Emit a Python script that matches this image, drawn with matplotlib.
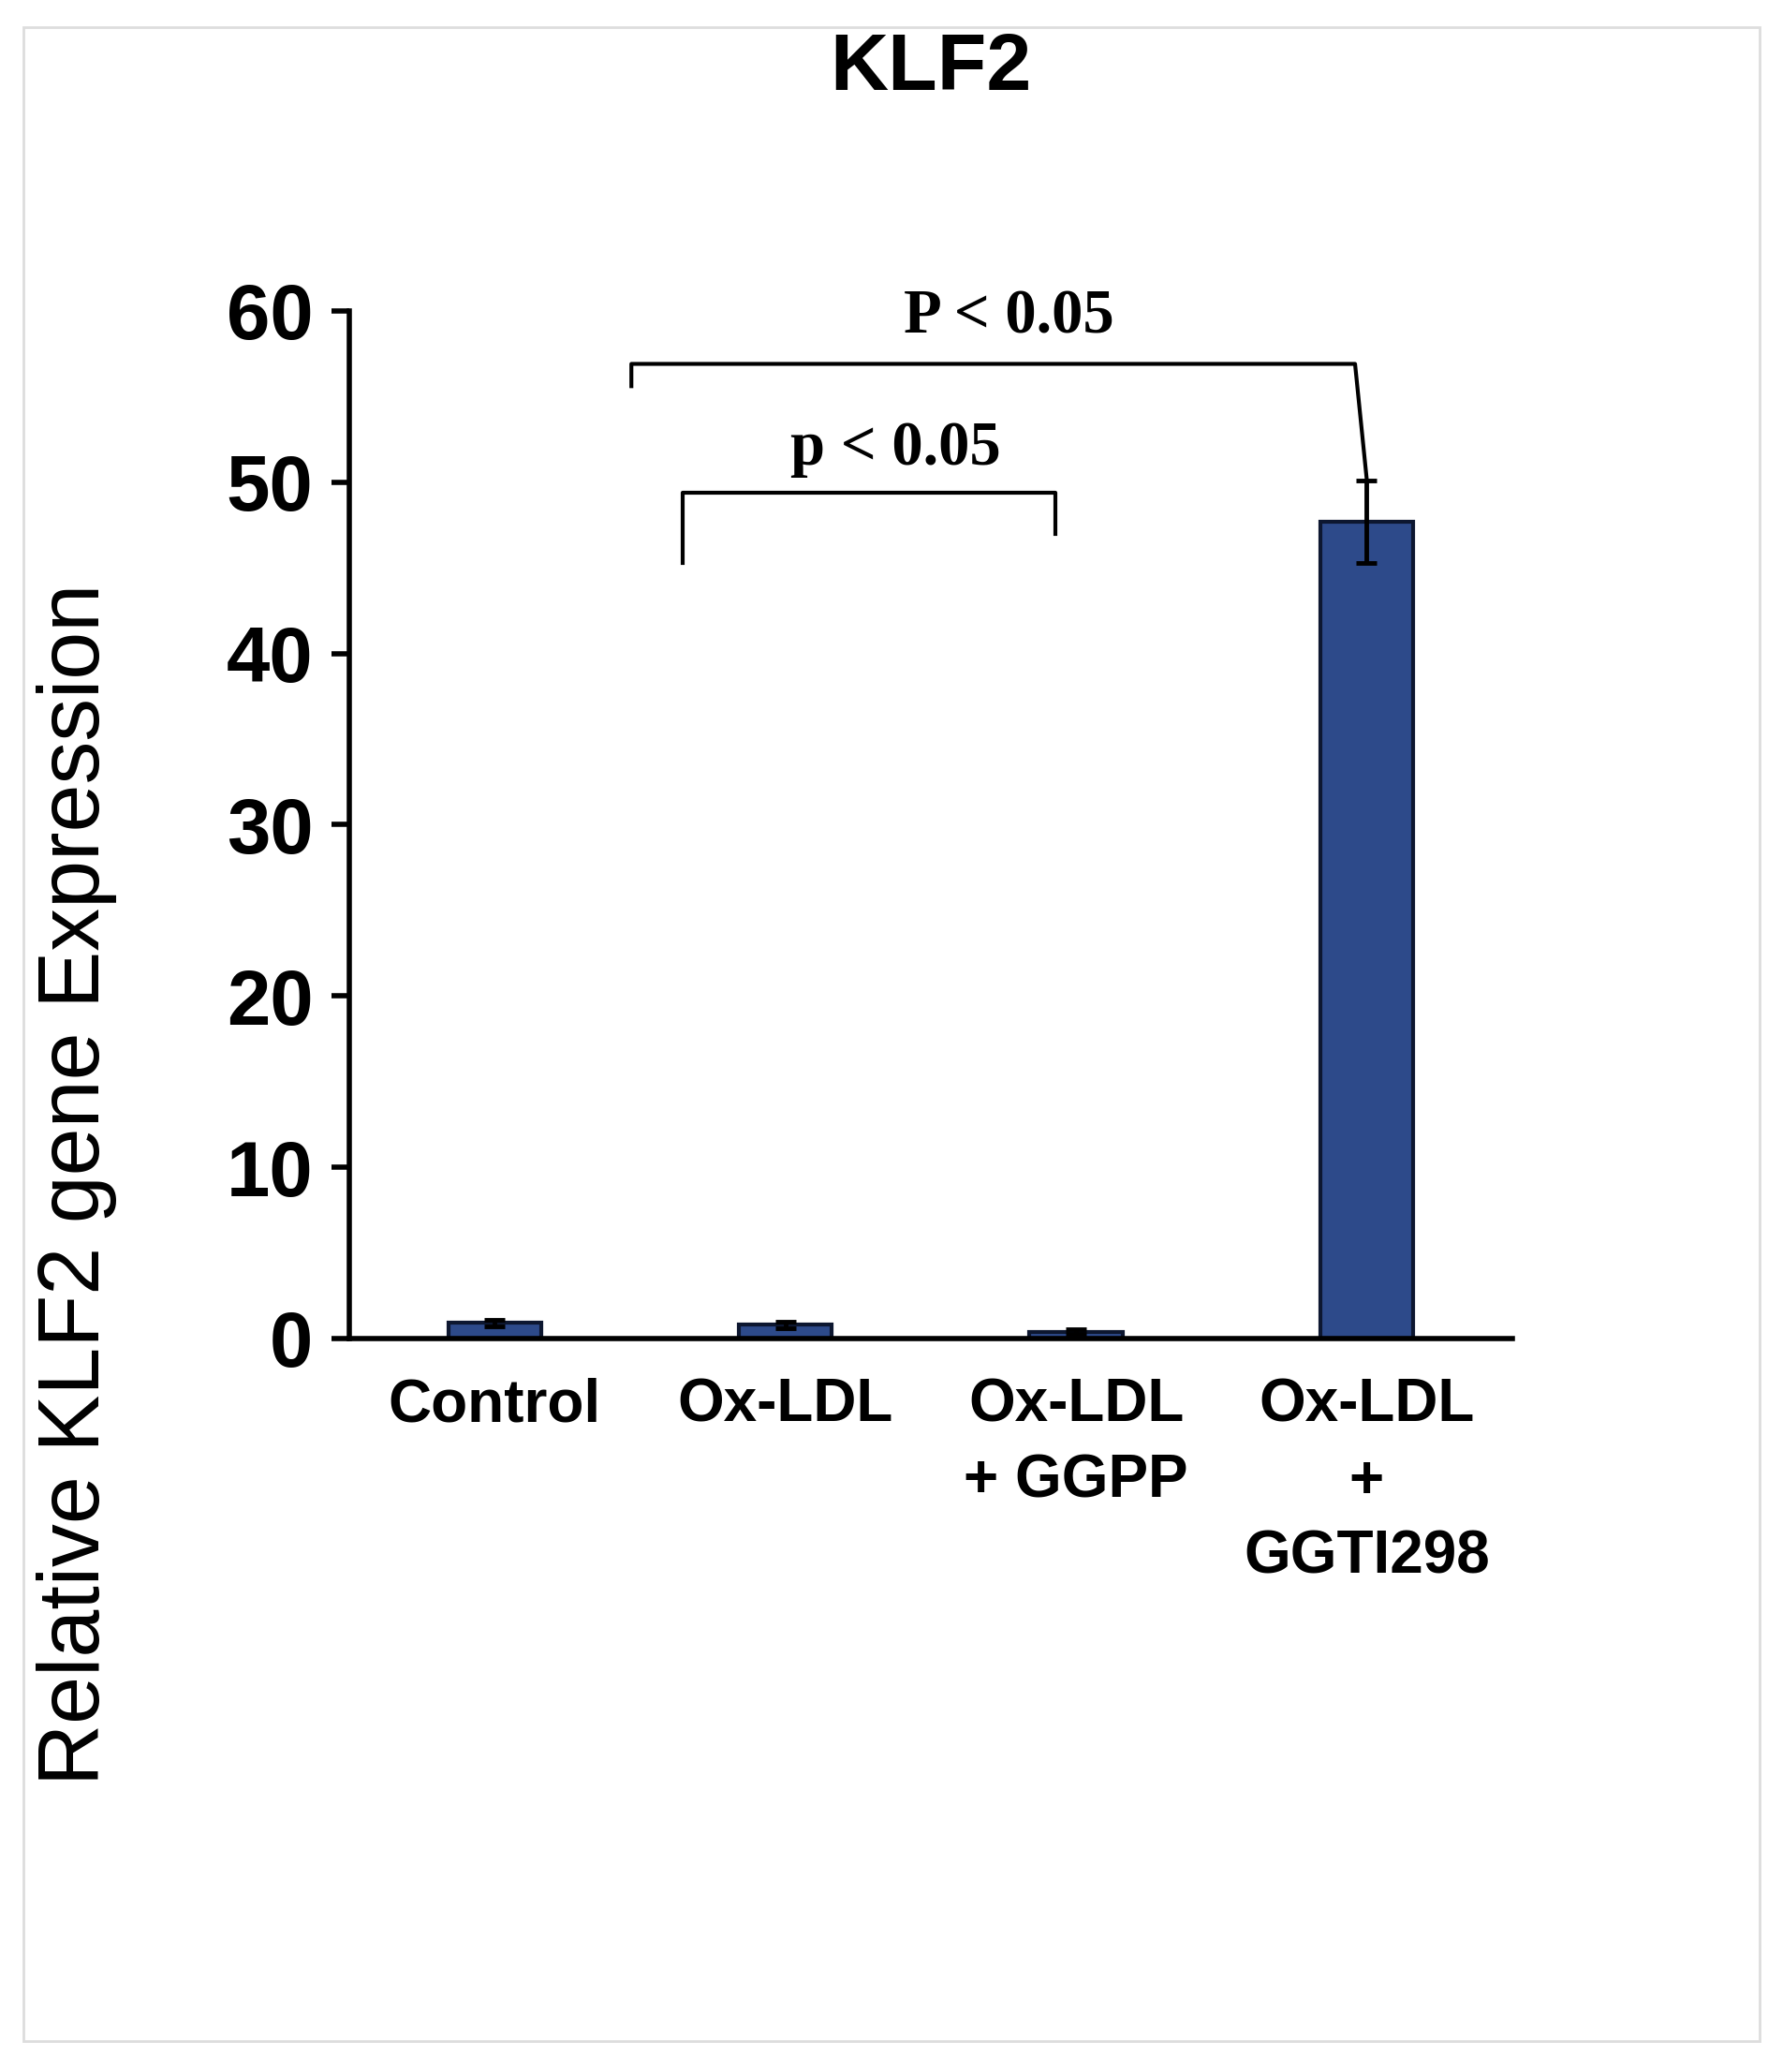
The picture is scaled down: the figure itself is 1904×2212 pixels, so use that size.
import numpy as np
import matplotlib.pyplot as plt
from matplotlib.patches import Rectangle

groups = ['Control', 'Ox-LDL', 'Ox-LDL\n+ GGPP', 'Ox-LDL\n+\nGGTI298']
values = [0.9, 0.8, 0.4, 47.7]
errors = [0.2, 0.2, 0.15, 2.4]

plt.rcParams['font.family'] = ['Liberation Sans', 'DejaVu Sans']

fig = plt.figure(figsize=(19.04, 22.12), dpi=100)
fig.patches.append(Rectangle((0.013, 0.015), 0.974, 0.972, transform=fig.transFigure,
                             fill=False, edgecolor='#dddddd', linewidth=2))
ax = fig.add_axes([0.196, 0.354, 0.652, 0.496])

x = np.arange(len(groups))
ax.bar(x, values, width=0.32, color='#2d4a8a', edgecolor='#0d1730', linewidth=3,
       yerr=errors, error_kw=dict(ecolor='black', elinewidth=3.5, capsize=8, capthick=3.5))

ax.set_xlim(-0.5, 3.5)
ax.set_ylim(0, 60)
ax.set_yticks(np.arange(0, 70, 10))
ax.set_xticks(x)
ax.set_xticklabels(groups, fontsize=46, fontweight='bold', linespacing=1.45)
ax.tick_params(axis='x', length=0, pad=30)
ax.tick_params(axis='y', labelsize=60, width=4, length=14, pad=14)
for lab in ax.get_yticklabels():
    lab.set_fontweight('bold')
for s in ['top', 'right']:
    ax.spines[s].set_visible(False)
for s in ['left', 'bottom']:
    ax.spines[s].set_linewidth(4)

ax.set_ylabel('Relative KLF2 gene Expression', fontsize=66, labelpad=30)
ax.yaxis.set_label_coords(-0.2, 0.15)
ax.set_title('KLF2', fontsize=62, fontweight='bold', pad=170)

# significance brackets
lw = 3
ax.plot([0.47, 0.47, 2.96, 3.0], [55.6, 56.9, 56.9, 50.2], color='black', lw=lw, clip_on=False)
ax.text(1.77, 59.6, 'P < 0.05', fontsize=48, fontweight='bold', ha='center', va='center',
        family='Liberation Serif')
ax.plot([0.645, 0.645, 1.93, 1.93], [45.3, 49.4, 49.4, 47.0], color='black', lw=lw, clip_on=False)
ax.text(1.38, 51.9, 'p < 0.05', fontsize=48, fontweight='bold', ha='center', va='center',
        family='Liberation Serif')

fig.savefig('out.png', dpi=100)
